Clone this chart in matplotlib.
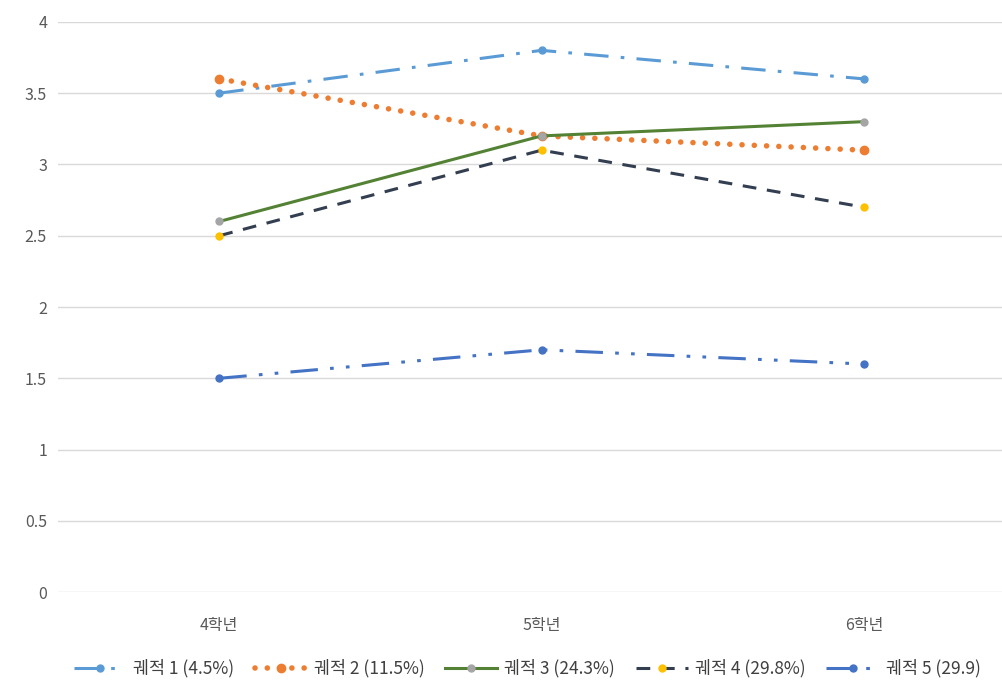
import matplotlib.pyplot as plt

plt.rcParams['font.family'] = ['Noto Sans CJK KR', 'DejaVu Sans']

grades = ['4학년', '5학년', '6학년']
traj1 = [3.5, 3.8, 3.6]
traj2 = [3.6, 3.2, 3.1]
traj3 = [2.6, 3.2, 3.3]
traj4 = [2.5, 3.1, 2.7]
traj5 = [1.5, 1.7, 1.6]
labels = ['궤적 1 (4.5%)', '궤적 2 (11.5%)', '궤적 3 (24.3%)', '궤적 4 (29.8%)', '궤적 5 (29.9)']
yticks = [0, 0.5, 1, 1.5, 2, 2.5, 3, 3.5, 4]
ytick_labels = ['0', '0.5', '1', '1.5', '2', '2.5', '3', '3.5', '4']

fig = plt.figure(figsize=(10.02, 6.83), dpi=100)
ax = fig.add_axes([0.058, 0.133, 0.965, 0.835])

x = range(len(grades))
lw = 2.2
ax.plot(x, traj1, color='#5B9BD5', lw=lw, dashes=(8, 4, 1.2, 4), marker='o', ms=5,
        label=labels[0], zorder=3)
ax.plot(x, traj2, color='#ED7D31', lw=4, dashes=(0.01, 2.2), dash_capstyle='round',
        marker='o', ms=6, label=labels[1], zorder=3)
ax.plot(x, traj3, color='#548235', lw=lw, marker='o', ms=5, mfc='#A5A5A5', mec='#A5A5A5',
        label=labels[2], zorder=3)
ax.plot(x, traj4, color='#333F50', lw=lw, dashes=(4.5, 3.5), marker='o', ms=5,
        mfc='#FFC000', mec='#FFC000', label=labels[3], zorder=3)
ax.plot(x, traj5, color='#4472C4', lw=lw, dashes=(9, 4, 1.2, 4, 1.2, 4), marker='o', ms=5,
        label=labels[4], zorder=3)

ax.set_xlim(-0.5, 2.5)
ax.set_ylim(0, 4)
ax.set_xticks(list(x))
ax.set_xticklabels(grades)
ax.set_yticks(yticks)
ax.set_yticklabels(ytick_labels)
ax.grid(axis='y', color='#D9D9D9', lw=1)
ax.set_axisbelow(True)
for s in ax.spines.values():
    s.set_visible(False)
ax.tick_params(length=0, labelsize=11.5, colors='#595959', pad=8)
ax.tick_params(axis='x', pad=18)

ax.legend(loc='upper center', bbox_to_anchor=(0.485, -0.09), ncol=5, frameon=False,
          fontsize=12.5, labelcolor='#404040', handlelength=3, columnspacing=1.2,
          handletextpad=0.4)

fig.savefig('out.png', dpi=100)
